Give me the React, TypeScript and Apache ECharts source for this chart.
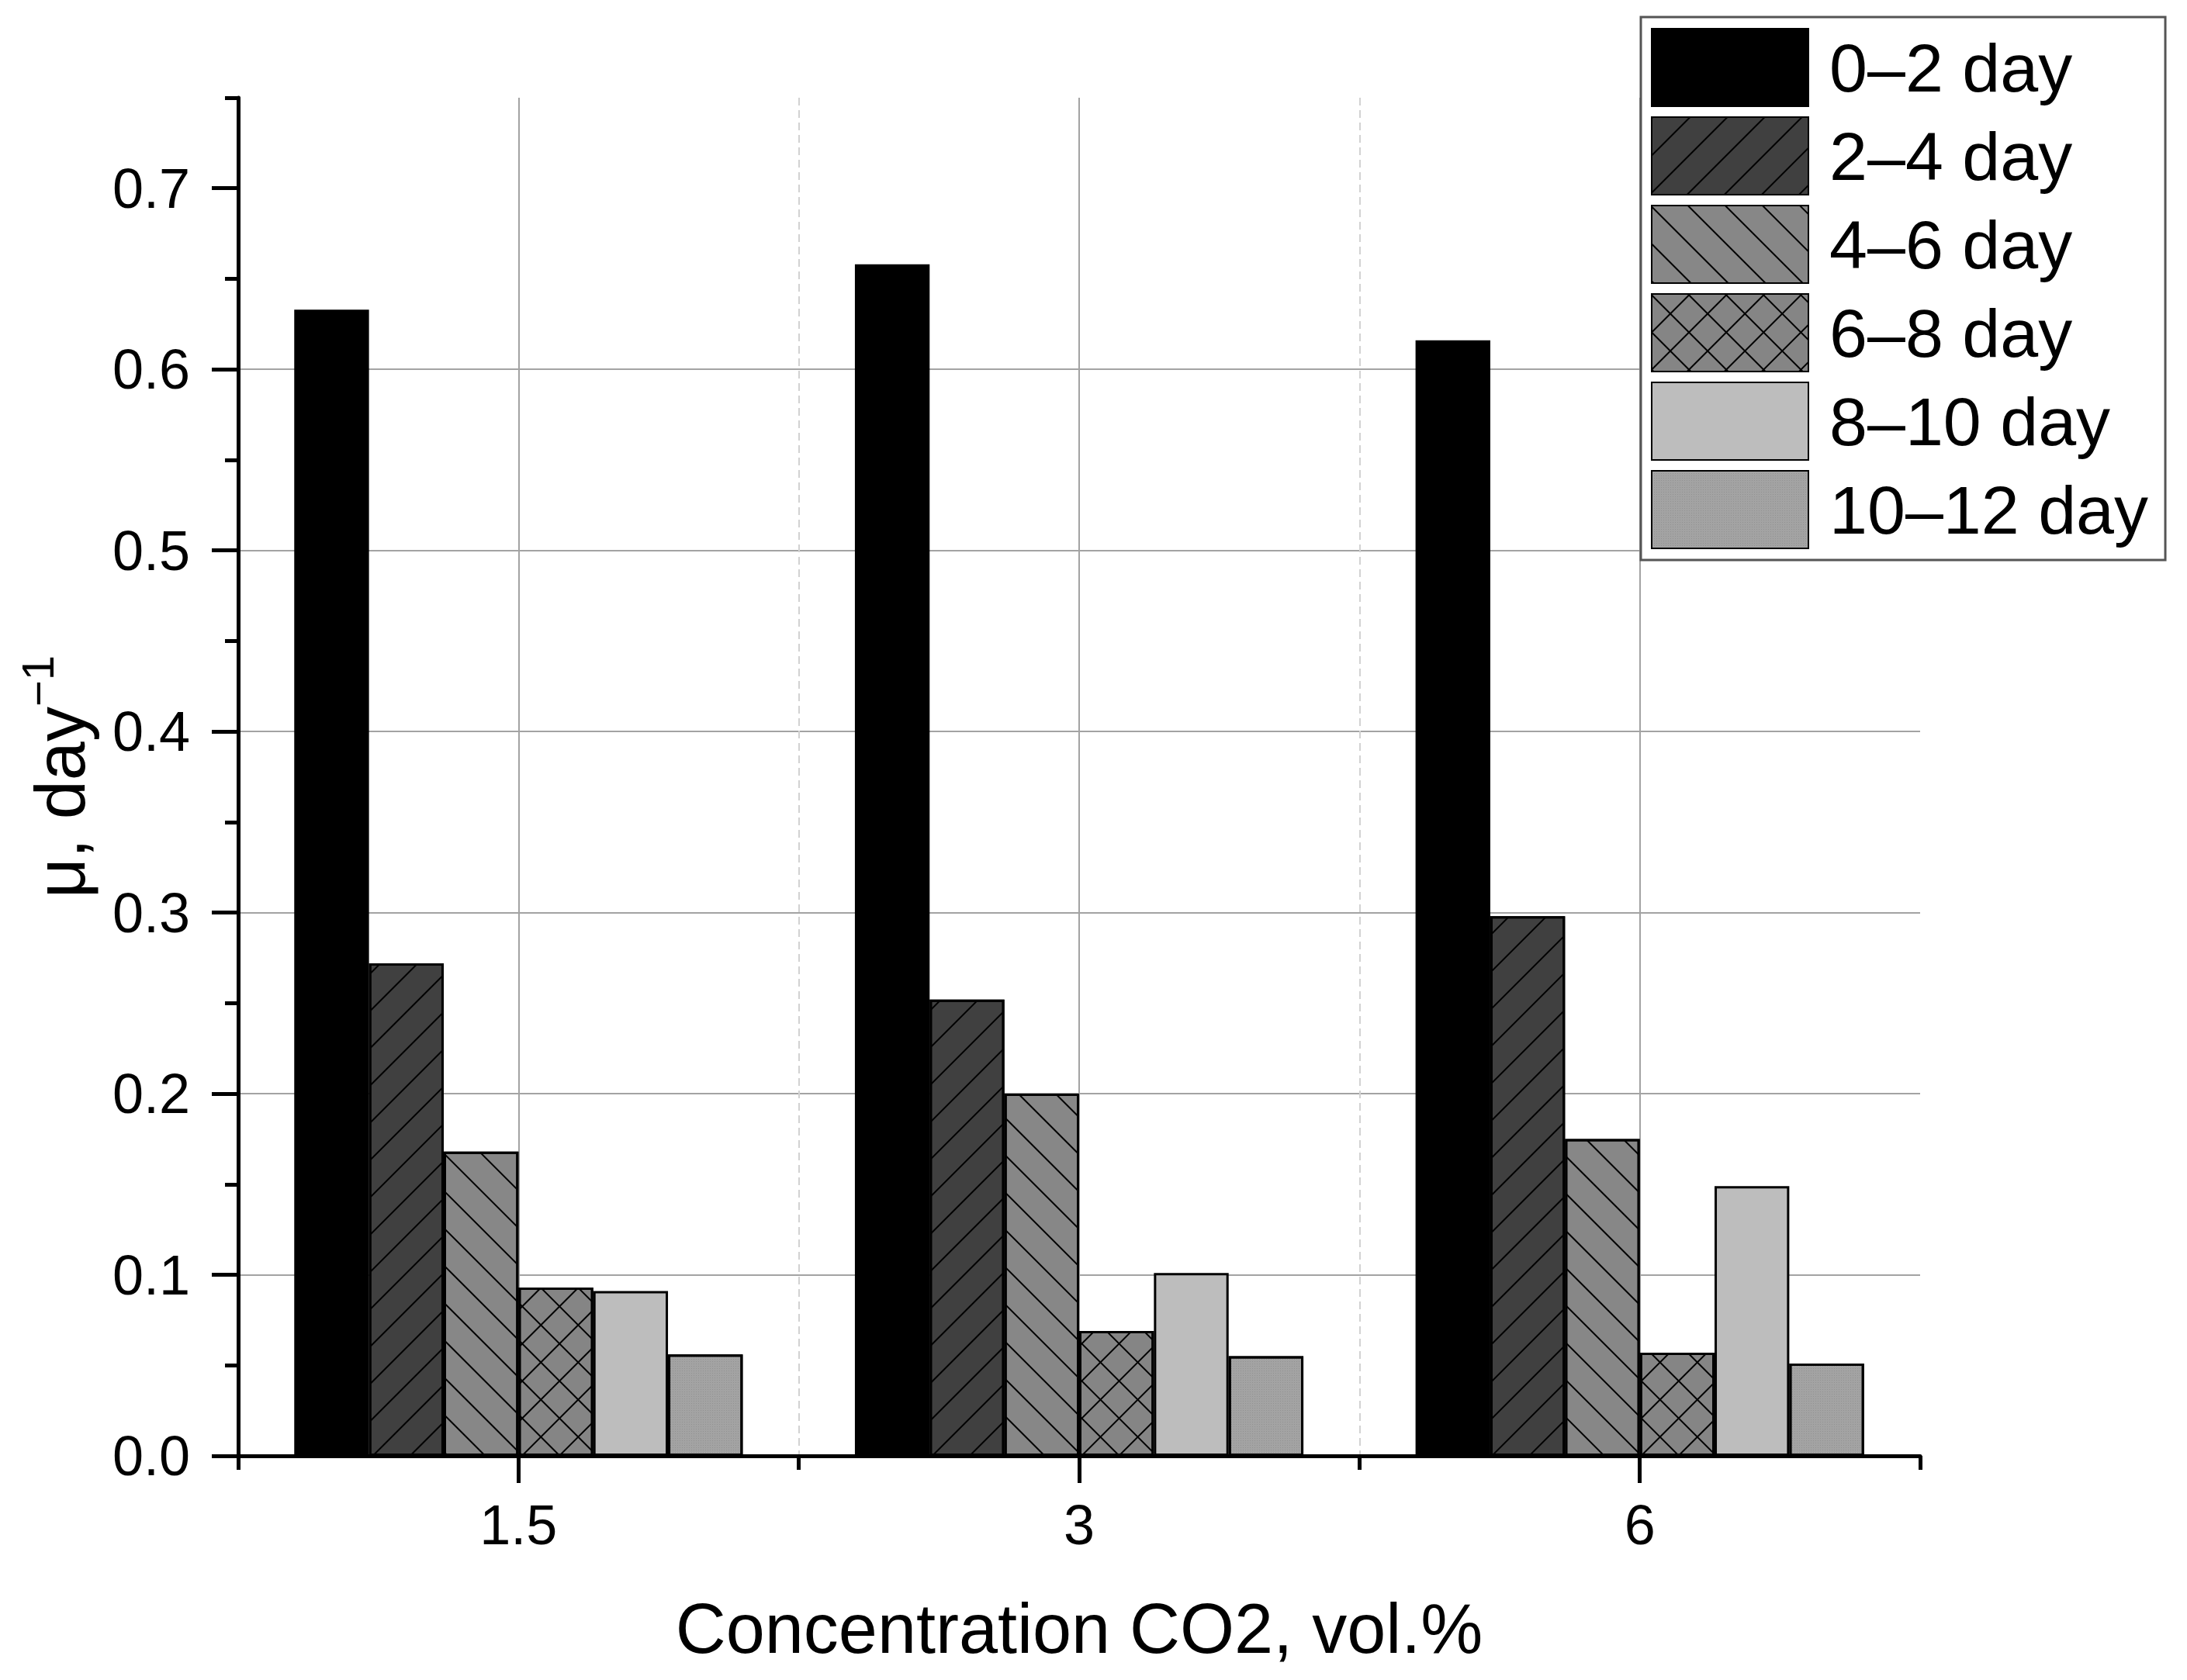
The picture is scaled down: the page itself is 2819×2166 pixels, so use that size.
import React, { useEffect, useRef } from 'react';
import * as echarts from 'echarts';

const categories = ['1.5', '3', '6'];
const seriesNames = ['0–2 day', '2–4 day', '4–6 day', '6–8 day', '8–10 day', '10–12 day'];
const day0to2 = [0.633, 0.658, 0.616];
const day2to4 = [0.272, 0.252, 0.298];
const day4to6 = [0.168, 0.2, 0.175];
const day6to8 = [0.093, 0.069, 0.057];
const day8to10 = [0.091, 0.101, 0.149];
const day10to12 = [0.056, 0.055, 0.051];
const yMajorTicks = [0, 0.1, 0.2, 0.3, 0.4, 0.5, 0.6, 0.7];
const yMinorTicks = [0.05, 0.15, 0.25, 0.35, 0.45, 0.55, 0.65, 0.75];

const FONT = 'Liberation Sans, Arial, sans-serif';

const hatch = (rotation: number) => ({
  symbol: 'rect',
  symbolSize: 1,
  color: '#000000',
  dashArrayX: [1, 0],
  dashArrayY: [2, 32],
  rotation,
});

const crossHatch = {
  symbol: 'rect',
  symbolSize: 1,
  color: '#000000',
  dashArrayX: [[1, 0], [2, 32]],
  dashArrayY: [2, 0, 32, 0],
  rotation: Math.PI / 4,
};

const dots = {
  symbol: 'rect',
  symbolSize: 1,
  color: 'rgba(0,0,0,0.10)',
  dashArrayX: [1, 2],
  dashArrayY: [1, 2],
  rotation: 0,
};

const seriesData = [day0to2, day2to4, day4to6, day6to8, day8to10, day10to12];
const seriesColors = ['#000000', '#404040', '#878787', '#858585', '#bdbdbd', '#a3a3a3'];
const seriesDecals: any[] = [null, hatch(-Math.PI / 4), hatch(Math.PI / 4), crossHatch, null, dots];

export default function App() {
  const ref = useRef<HTMLDivElement>(null);

  useEffect(() => {
    document.body.style.margin = '0';
    document.body.style.overflow = 'hidden';
    if (!ref.current) return;
    const chart = echarts.init(ref.current, null, { renderer: 'svg' });

    const series = seriesNames.map((name, i) => {
      const itemStyle: any = {
        color: seriesColors[i],
        borderColor: '#000000',
        borderWidth: 3,
      };
      if (seriesDecals[i]) itemStyle.decal = seriesDecals[i];
      return {
        name,
        type: 'bar',
        xAxisIndex: 0,
        yAxisIndex: 0,
        data: seriesData[i],
        barGap: '0%',
        barCategoryGap: '20%',
        itemStyle,
        z: 3,
      };
    });

    chart.setOption({
      animation: false,
      backgroundColor: '#ffffff',
      grid: {
        left: 307,
        right: 344,
        top: 126,
        bottom: 289,
        containLabel: false,
        outerBoundsMode: 'none',
      },
      legend: {
        orient: 'vertical',
        left: 2115,
        top: 22,
        icon: 'rect',
        itemWidth: 202,
        itemHeight: 100,
        itemGap: 12,
        padding: [14, 22, 14, 13],
        backgroundColor: '#ffffff',
        borderColor: '#555555',
        borderWidth: 3,
        z: 10,
        textStyle: {
          fontSize: 88,
          fontFamily: FONT,
          color: '#000000',
          padding: [0, 0, 0, 22],
        },
        data: seriesNames,
      },
      xAxis: [
        {
          type: 'category',
          data: categories,
          position: 'bottom',
          name: 'Concentration CO2, vol.%',
          nameLocation: 'middle',
          nameGap: 178,
          nameTextStyle: { fontSize: 90, fontFamily: FONT, color: '#000000' },
          axisLine: { show: true, lineStyle: { color: '#000000', width: 5 } },
          axisTick: { show: true, alignWithLabel: true, length: 35, lineStyle: { color: '#000000', width: 5 } },
          axisLabel: { fontSize: 72, fontFamily: FONT, color: '#000000', margin: 53 },
          splitLine: {
            show: true,
            showMinLine: false,
            showMaxLine: false,
            lineStyle: { color: '#d2d2d2', width: 2, type: [10, 6] },
          },
        },
        {
          type: 'value',
          min: 0,
          max: 3,
          interval: 1,
          position: 'bottom',
          axisLine: { show: false },
          axisTick: { show: true, length: 18, lineStyle: { color: '#000000', width: 5 } },
          axisLabel: { show: false },
          splitLine: { show: false },
        },
        {
          type: 'value',
          min: 0,
          max: 6,
          interval: 1,
          position: 'bottom',
          axisLine: { show: false },
          axisTick: { show: false },
          axisLabel: { show: false },
          splitLine: {
            show: true,
            lineStyle: { color: ['rgba(0,0,0,0)', '#a3a3a3'], width: 2 },
          },
        },
      ],
      yAxis: [
        {
          type: 'value',
          min: 0,
          max: 0.75,
          interval: 0.1,
          position: 'left',
          name: '{m|μ, day}{s|−1}',
          nameLocation: 'middle',
          nameGap: 184,
          nameTextStyle: {
            fontFamily: FONT,
            color: '#000000',
            rich: {
              m: { fontSize: 90, lineHeight: 104, verticalAlign: 'bottom', fontFamily: FONT, color: '#000000' },
              s: { fontSize: 58, lineHeight: 58, verticalAlign: 'top', fontFamily: FONT, color: '#000000' },
            },
          },
          axisLine: { show: true, lineStyle: { color: '#000000', width: 5 } },
          axisTick: {
            show: true,
            length: 34,
            customValues: yMajorTicks,
            lineStyle: { color: '#000000', width: 5 },
          },
          axisLabel: {
            fontSize: 72,
            fontFamily: FONT,
            color: '#000000',
            margin: 62,
            customValues: yMajorTicks,
            formatter: (v: number) => v.toFixed(1),
          },
          splitLine: {
            show: true,
            showMinLine: false,
            showMaxLine: false,
            lineStyle: { color: '#a3a3a3', width: 2 },
          },
        },
        {
          type: 'value',
          min: 0,
          max: 0.75,
          position: 'left',
          axisLine: { show: false },
          axisTick: {
            show: true,
            length: 17,
            customValues: yMinorTicks,
            lineStyle: { color: '#000000', width: 5 },
          },
          axisLabel: { show: false },
          splitLine: { show: false },
        },
      ],
      series,
    });

    return () => {
      chart.dispose();
    };
  }, []);

  return <div ref={ref} style={{ width: 2819, height: 2166 }} />;
}
